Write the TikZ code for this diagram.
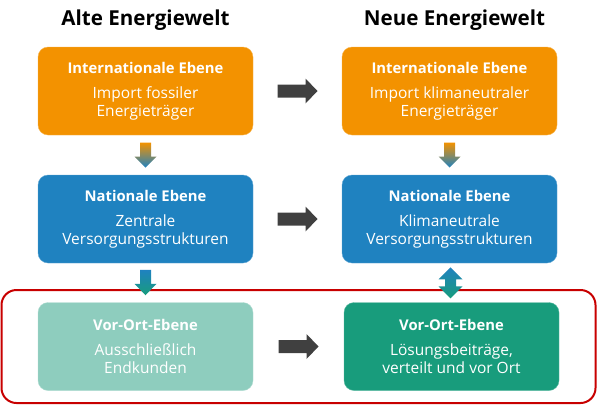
\documentclass[tikz,border=0pt]{standalone}
\usepackage{fontspec}
\setmainfont{Open Sans}
\usetikzlibrary{calc}
\definecolor{orangeF}{HTML}{F39200}
\definecolor{blueF}{HTML}{1F82C0}
\definecolor{lgreenF}{HTML}{8ECDBE}
\definecolor{greenF}{HTML}{189C7C}
\definecolor{redF}{HTML}{C80000}
\definecolor{grayA}{HTML}{404040}
\tikzset{
  box/.style={rectangle, rounded corners=10pt, minimum width=215pt, minimum height=88pt,
    text=white, align=center, font=\fontsize{15.5}{18}\selectfont, inner sep=0pt},
  heading/.style={font=\fontsize{20.6}{24}\selectfont\bfseries, text=black},
}
\newcommand{\boxtext}[2]{{\fontsize{14.8}{18}\selectfont\bfseries #1}\\[7.5pt]#2}
\begin{document}
\begin{tikzpicture}[x=1pt,y=-1pt]
\useasboundingbox (0,0) rectangle (597,405);
\node[heading] (tl) at (145.5,20) {Alte Energiewelt};
\node[heading] (tr) at (454.5,20) {Neue Energiewelt};
% red frame
\draw[redF, line width=2pt, rounded corners=15pt] (1.5,290) rectangle (595.5,403);
% boxes
\node[box, fill=orangeF, draw=orangeF!70!white] (o1) at (145.5,91) {\boxtext{Internationale Ebene}{Import fossiler\\Energieträger}};
\node[box, fill=orangeF, draw=orangeF!70!white] (o2) at (449.5,91) {\boxtext{Internationale Ebene}{Import klimaneutraler\\Energieträger}};
\node[box, fill=blueF, draw=blueF!70!white] (b1) at (145.5,219) {\boxtext{Nationale Ebene}{Zentrale\\Versorgungsstrukturen}};
\node[box, fill=blueF, draw=blueF!70!white] (b2) at (449.5,219) {\boxtext{Nationale Ebene}{Klimaneutrale\\Versorgungsstrukturen}};
\node[box, fill=lgreenF, draw=lgreenF!70!white] (g1) at (145.5,346.5) {\boxtext{Vor-Ort-Ebene}{Ausschließlich\\Endkunden}};
\node[box, fill=greenF, draw=greenF!70!white] (g2) at (451.5,346.5) {\boxtext{Vor-Ort-Ebene}{Lösungsbeiträge,\\verteilt und vor Ort}};
% gray horizontal arrows
\foreach \a/\b in {o1/o2, b1/b2, g1/g2}{
  \fill[grayA] ($(\a.east)!0.5!(\b.west)$) ++(-20,-6.5) -- ++(28,0) -- ++(0,-6) -- ++(12,12.5)
    -- ++(-12,12.5) -- ++(0,-6) -- ++(-28,0) -- cycle;
}
% gradient down arrows
\shade[top color=orangeF, bottom color=blueF] ($(o1.south)!0.5!(b1.north)$) ++(-5.5,-12.5) -- ++(11,0) -- ++(0,14)
  -- ++(5.5,0) -- ++(-11,11) -- ++(-11,-11) -- ++(5.5,0) -- cycle;
\shade[top color=orangeF, bottom color=blueF] ($(o2.south)!0.5!(b2.north)$) ++(-5.5,-12.5) -- ++(11,0) -- ++(0,14)
  -- ++(5.5,0) -- ++(-11,11) -- ++(-11,-11) -- ++(5.5,0) -- cycle;
\shade[top color=blueF, bottom color=greenF] ($(b1.south)!0.5!(g1.north)$) ++(-5.5,-13) -- ++(11,0) -- ++(0,14)
  -- ++(5.5,0) -- ++(-11,11.5) -- ++(-11,-11.5) -- ++(5.5,0) -- cycle;
% double arrow
\shade[top color=blueF, bottom color=greenF] ($(b2.south)!0.5!(g2.north)$) ++(0,-15.5) -- ++(12,12) -- ++(-6.5,0)
  -- ++(0,7) -- ++(6.5,0) -- ++(-12,12) -- ++(-12,-12) -- ++(6.5,0) -- ++(0,-7) -- ++(-6.5,0) -- cycle;
\end{tikzpicture}
\end{document}
